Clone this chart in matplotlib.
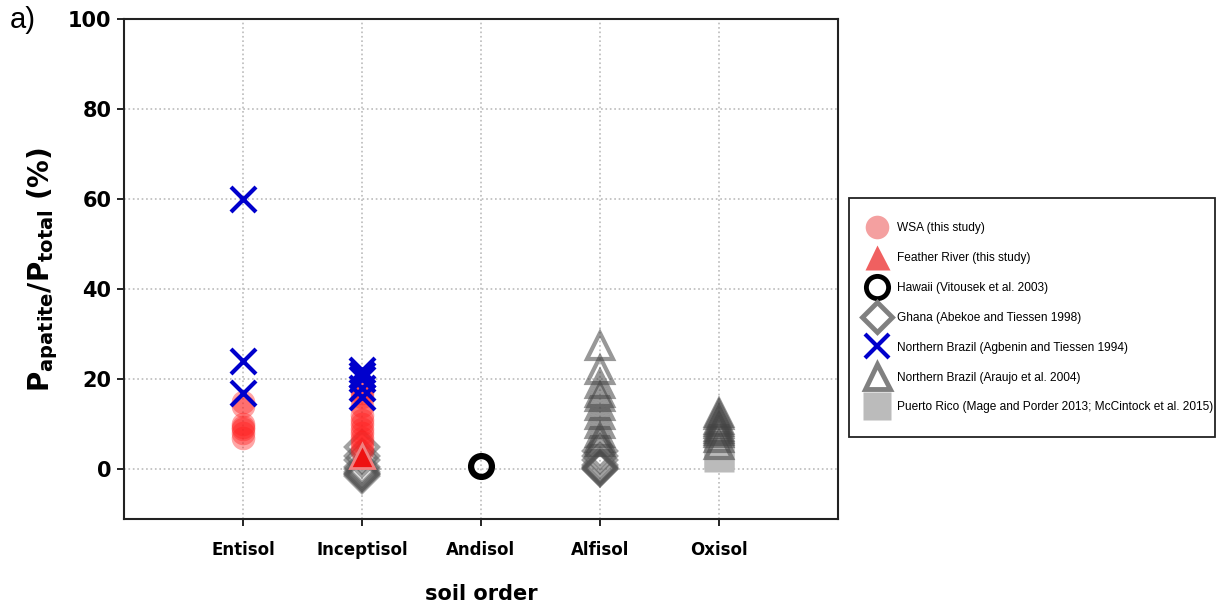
import matplotlib
matplotlib.use('Agg')
import matplotlib.pyplot as plt
from matplotlib.lines import Line2D
from matplotlib.patches import Rectangle

plt.rcParams['font.family'] = ['DejaVu Sans']
plt.rcParams['mathtext.fontset'] = 'custom'
plt.rcParams['mathtext.bf'] = 'DejaVu Sans:bold'
plt.rcParams['mathtext.rm'] = 'DejaVu Sans:bold'

soil_orders = ['Entisol', 'Inceptisol', 'Andisol', 'Alfisol', 'Oxisol']

# values (P apatite / P total, %), x = soil order index (1..5)
wsa_x = [1, 1, 1, 1, 1, 1, 1, 2, 2, 2, 2, 2, 2, 2, 2, 2, 2, 2, 2, 2]
wsa_y = [15, 14, 10, 9.5, 9, 8, 7, 18, 17, 16, 14, 12, 11, 10, 9, 8, 7, 6, 5, 4]
feather_x = [2]
feather_y = [3]
hawaii_x = [3]
hawaii_y = [0.7]
ghana_x = [2, 2, 2, 2, 2, 2, 2, 2, 2, 4, 4, 4, 4, 4, 4, 4, 4]
ghana_y = [5, 3, 2, 0.5, 0, -0.5, -1, -1, -1.5, 4, 3, 2, 1, 0.5, 0.3, 0.2, 0]
agbenin_x = [1, 1, 1, 2, 2, 2, 2, 2]
agbenin_y = [60, 24, 17, 22, 21, 20, 18, 16]
araujo_x = [4, 4, 4, 4, 4, 4, 4, 4, 4, 4, 4,
            5, 5, 5, 5, 5, 5, 5, 5, 5, 5, 5]
araujo_y = [27.5, 22, 19, 17, 16, 14, 12, 10, 8, 7, 6,
            12.5, 12, 11, 10.5, 10, 9.5, 9, 8.5, 8, 7, 5.5]
puerto_x = [5, 5]
puerto_y = [3.5, 2.8]

fig = plt.figure(figsize=(12.23, 6.08), dpi=100)
ax = fig.add_axes([0.1014, 0.1464, 0.5836, 0.8224])

ax.plot(puerto_x, puerto_y, 's', ms=21, color='#bbbbbb', mec='none', zorder=1)
ax.plot(ghana_x, ghana_y, 'D', ms=16, mfc='none', mew=3, color='#555555', alpha=0.55, zorder=2)
ax.plot(araujo_x, araujo_y, '^', ms=19, mfc='none', mew=3, color='#444444', alpha=0.55, zorder=2)
ax.plot(hawaii_x, hawaii_y, 'o', ms=15, mfc='none', mew=4.5, color='black', zorder=2)
ax.plot(wsa_x, wsa_y, 'o', ms=17, color='#ff2020', alpha=0.4, mec='none', zorder=3)
ax.plot(agbenin_x, agbenin_y, 'x', ms=18, mew=3, color='#0000cc', zorder=4)
ax.plot(feather_x, feather_y, '^', ms=17, color='#ee1111', mec='#f08080', mew=2, zorder=5)

ax.set_xlim(0, 6)
ax.set_ylim(-11, 100)
ax.set_xticks(range(1, 6))
ax.set_xticklabels(soil_orders, fontsize=12, fontweight='bold')
ax.set_yticks([0, 20, 40, 60, 80, 100])
ax.set_yticklabels(['0', '20', '40', '60', '80', '100'], fontsize=15, fontweight='bold')
ax.tick_params(direction='out', length=5, width=1.2)
ax.tick_params(axis='x', pad=11)
ax.tick_params(axis='y', pad=4)
ax.grid(True, linestyle=':', color='#bbbbbb', linewidth=1.2)
for s in ax.spines.values():
    s.set_linewidth(1.5)
    s.set_color('#222222')

ax.set_xlabel('soil order', fontsize=15, fontweight='bold', labelpad=18)
ax.set_ylabel(r'$\mathbf{P_{apatite}/P_{total}}\ \mathrm{(\%)}$', fontsize=20, labelpad=6)
fig.text(0.008, 0.967, 'a)', fontsize=21, va='center', family='Liberation Sans')

handles = [
    Line2D([], [], ls='none', marker='o', ms=17, color='#f4a0a0', mec='none'),
    Line2D([], [], ls='none', marker='^', ms=18, color='#f06060', mec='none'),
    Line2D([], [], ls='none', marker='o', ms=16, mfc='none', mew=3.5, color='black'),
    Line2D([], [], ls='none', marker='D', ms=15, mfc='none', mew=3.5, color='#808080'),
    Line2D([], [], ls='none', marker='x', ms=17, mew=3, color='#0000cc'),
    Line2D([], [], ls='none', marker='^', ms=18, mfc='none', mew=3.5, color='#808080'),
    Line2D([], [], ls='none', marker='s', ms=20, color='#bbbbbb', mec='none'),
]
labels = [
    'WSA (this study)',
    'Feather River (this study)',
    'Hawaii (Vitousek et al. 2003)',
    'Ghana (Abekoe and Tiessen 1998)',
    'Northern Brazil (Agbenin and Tiessen 1994)',
    'Northern Brazil (Araujo et al. 2004)',
    'Puerto Rico (Mage and Porder 2013; McCintock et al. 2015)',
]
leg = fig.legend(handles, labels, loc='upper left', bbox_to_anchor=(873 / 1223, 1 - 222 / 608),
                 prop={'family': 'Liberation Sans', 'size': 8.6}, frameon=False,
                 labelspacing=1.5, handletextpad=1.3, borderpad=0, handlelength=0.7,
                 borderaxespad=0)
fig.add_artist(Rectangle((849 / 1223, 1 - 437 / 608), 366 / 1223, 239 / 608,
                         transform=fig.transFigure, fill=False, ec='#222222', lw=1.3))

fig.savefig('out.png', dpi=100)
